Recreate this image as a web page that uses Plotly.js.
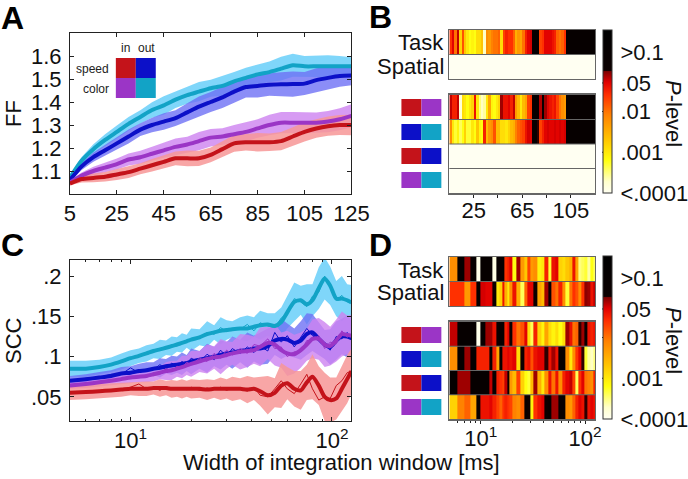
<!DOCTYPE html>
<html><head><meta charset="utf-8">
<script src="https://cdn.plot.ly/plotly-3.0.1.min.js"></script>
<style>html,body{margin:0;padding:0;background:#fff}#g{width:688px;height:479px}</style>
</head><body><div id="g"></div>
<script>
// ---------- Panel A: Fano factor vs. integration window ----------
const windowA=[5,10,15,20,25,30,35,40,45,50,55,60,65,70,75,80,85,90,95,100,105,110,115,120,125];
const ffTeal=[1.07,1.145,1.195,1.235,1.27,1.305,1.335,1.365,1.385,1.41,1.43,1.445,1.46,1.47,1.49,1.505,1.52,1.53,1.545,1.56,1.555,1.555,1.555,1.555,1.555];
const ffBlue=[1.06,1.12,1.16,1.19,1.22,1.25,1.28,1.30,1.315,1.33,1.355,1.38,1.40,1.42,1.445,1.465,1.47,1.475,1.477,1.478,1.48,1.495,1.505,1.513,1.515];
const ffPurple=[1.05,1.08,1.10,1.115,1.13,1.15,1.16,1.175,1.19,1.205,1.215,1.23,1.245,1.25,1.26,1.27,1.285,1.30,1.31,1.31,1.31,1.31,1.315,1.325,1.34];
const ffRed=[1.045,1.065,1.07,1.075,1.085,1.095,1.11,1.125,1.14,1.155,1.155,1.155,1.17,1.195,1.22,1.225,1.225,1.225,1.23,1.25,1.27,1.285,1.295,1.30,1.30];
const ffTealErr=[.008,.016,.021,.025,.028,.03,.029,.034,.04,.036,.038,.042,.037,.043,.04,.044,.042,.046,.052,.05,.045,.046,.048,.045,.04];
const ffBlueErr=[.007,.016,.02,.024,.026,.03,.028,.032,.036,.034,.04,.044,.043,.046,.048,.045,.05,.048,.052,.055,.05,.052,.05,.047,.042];
const ffPurpleErr=[.006,.014,.018,.02,.024,.026,.028,.03,.032,.036,.034,.04,.038,.036,.04,.042,.04,.045,.046,.047,.045,.044,.046,.048,.05];
const ffRedErr=[.007,.015,.019,.021,.024,.025,.024,.027,.03,.03,.034,.033,.032,.034,.036,.036,.04,.038,.04,.04,.042,.04,.042,.044,.045];

// ---------- Panel C: spike count correlation ----------
const windowC=[5,6,7,8,9,10,11,12,13,14,15,16,17,18,19,20,22,24,26,28,30,32,35,38,41,44,48,52,56,60,65,70,75,80,86,92,98,105,112,119,125];
const sccTeal=[.085,.085,.087,.09,.094,.098,.101,.104,.107,.109,.111,.113,.115,.117,.119,.121,.124,.128,.13,.132,.133,.134,.135,.135,.137,.139,.14,.138,.143,.155,.168,.17,.165,.17,.185,.197,.188,.172,.172,.17,.167];
const sccBlue=[.07,.072,.074,.076,.079,.08,.082,.083,.085,.086,.088,.089,.09,.091,.092,.094,.096,.098,.10,.102,.104,.105,.107,.108,.11,.11,.113,.12,.122,.121,.117,.12,.128,.13,.122,.115,.112,.12,.125,.125,.123];
const sccPurple=[.064,.066,.068,.07,.072,.074,.075,.076,.078,.08,.082,.083,.085,.087,.089,.091,.094,.097,.099,.10,.102,.104,.106,.107,.108,.112,.117,.115,.108,.104,.103,.108,.115,.122,.122,.115,.113,.12,.128,.127,.126];
const sccRed=[.055,.056,.057,.058,.059,.06,.06,.06,.061,.061,.061,.06,.06,.06,.06,.06,.06,.059,.06,.06,.06,.06,.06,.059,.06,.057,.052,.055,.064,.067,.06,.058,.068,.075,.064,.05,.046,.048,.06,.072,.082];
const rawTeal=[.085,.084,.087,.091,.093,.098,.101,.105,.106,.11,.11,.115,.113,.118,.118,.122,.123,.13,.128,.136,.131,.135,.134,.14,.132,.142,.138,.136,.148,.154,.172,.168,.162,.175,.18,.2,.186,.17,.176,.168,.168];
const rawBlue=[.07,.073,.074,.078,.078,.086,.08,.084,.084,.09,.084,.092,.088,.094,.09,.098,.093,.103,.096,.108,.1,.11,.104,.112,.105,.113,.107,.13,.118,.126,.112,.124,.135,.126,.12,.114,.108,.125,.122,.13,.12];
const rawPurple=[.064,.066,.069,.07,.073,.074,.076,.075,.08,.08,.085,.082,.088,.086,.093,.09,.098,.094,.104,.098,.108,.102,.11,.104,.115,.113,.122,.11,.112,.1,.106,.106,.12,.12,.126,.11,.118,.116,.132,.124,.128];
const rawRed=[.055,.056,.056,.059,.058,.062,.066,.06,.062,.058,.063,.06,.061,.06,.059,.062,.058,.061,.059,.062,.058,.061,.06,.057,.062,.052,.05,.06,.07,.06,.054,.066,.078,.06,.046,.05,.048,.064,.07,.08,.082];
const sccTealErr=[.01,.01,.009,.009,.01,.01,.009,.01,.009,.012,.009,.012,.009,.012,.008,.014,.01,.016,.009,.017,.012,.01,.014,.016,.012,.018,.014,.016,.018,.02,.024,.018,.025,.02,.026,.026,.024,.022,.028,.02,.022];
const sccBlueErr=[.006,.006,.007,.007,.008,.008,.009,.01,.008,.012,.009,.012,.01,.014,.01,.016,.011,.018,.012,.018,.014,.02,.014,.022,.016,.02,.022,.018,.025,.02,.018,.024,.026,.023,.02,.018,.022,.024,.022,.026,.022];
const sccPurpleErr=[.004,.005,.005,.006,.006,.007,.007,.008,.009,.008,.011,.012,.01,.014,.012,.016,.013,.018,.014,.022,.017,.014,.022,.02,.017,.024,.02,.026,.022,.028,.024,.022,.02,.024,.026,.028,.024,.026,.028,.024,.026];
const sccRedErr=[.009,.009,.009,.009,.009,.008,.009,.009,.008,.011,.009,.011,.01,.012,.01,.012,.011,.013,.011,.014,.012,.015,.013,.017,.014,.018,.024,.018,.028,.02,.022,.024,.022,.028,.024,.03,.028,.026,.028,.03,.028];

// ---------- Panel B: log10(P) per 2-ms bin ----------
const edgesB=[5,7,9,11,13,15,17,19,21,23,25,27,29,31,33,35,37,39,41,43,45,47,49,51,53,55,57,59,61,63,65,67,69,71,73,75,77,79,81,83,85,87,89,91,93,95,97,99,101,103,105,107,109,111,113,115,117,119,121,123,125];
const bTask=[-1.6,-1.3,-2.0,-1.2,-2.8,-1.8,-2.7,-3.0,-3.2,-3.1,-3.2,-2.9,-2.9,-2.7,-3.7,-2.2,-2.3,-2.1,-2.0,-2.0,-1.9,-2.9,-1.7,-1.5,-1.6,-1.6,-1.9,-2.5,-2.3,-2.4,-2.0,-1.5,-1.3,-1.25,-.5,-.5,-.5,-1.7,-1.6,-1.3,-1.3,-1.3,-1.4,-1.5,-1.9,-2.0,-1.9,-1.6,-.5,-.5,-.5,-.5,-.5,-.5,-.5,-.5,-.5,-.5,-.5,-.5];
const bSpatial=[-4,-4,-4,-4,-4,-4,-4,-4,-4,-4,-4,-4,-4,-4,-4,-4,-4,-4,-4,-4,-4,-4,-4,-4,-4,-4,-4,-4,-4,-4,-4,-4,-4,-4,-4,-4,-4,-4,-4,-4,-4,-4,-4,-4,-4,-4,-4,-4,-4,-4,-4,-4,-4,-4,-4,-4,-4,-4,-4,-4];
const bInSpeedColor=[-1.2,-1.5,-1.5,-1.2,-3.8,-2.9,-3.0,-3.2,-3.0,-2.8,-1.4,-3.0,-3.5,-3.7,-3.6,-3.0,-2.4,-3.1,-3.2,-3.0,-2.8,-1.1,-1.4,-1.4,-1.3,-1.5,-1.2,-2.3,-2.6,-3.0,-2.6,-2.4,-1.7,-1.6,-.5,-.5,-.5,-1.15,-.7,-1.1,-1.3,-1.4,-1.5,-1.4,-1.7,-2.0,-2.2,-2.3,-.5,-.5,-.5,-.5,-.5,-.5,-.5,-.5,-.5,-.5,-.5,-.5];
const bOutSpeedColor=[-2.2,-3.0,-3.3,-3.1,-3.4,-3.2,-2.8,-3.3,-3.3,-3.0,-3.2,-2.7,-3.1,-3.2,-1.5,-2.6,-2.3,-2.2,-1.8,-2.6,-2.6,-2.9,-2.9,-3.0,-2.8,-2.6,-2.5,-2.1,-1.9,-1.8,-1.7,-1.4,-1.25,-1.3,-.5,-.5,-1.0,-1.7,-1.5,-1.3,-1.25,-1.3,-1.3,-1.25,-1.3,-1.25,-1.3,-1.25,-.5,-.5,-.5,-.5,-.5,-.5,-.5,-.5,-.5,-.5,-.5,-.5];
const bSpeedInOut=[-4,-4,-4,-4,-4,-4,-4,-4,-4,-4,-4,-4,-4,-4,-4,-4,-4,-4,-4,-4,-4,-4,-4,-4,-4,-4,-4,-4,-4,-4,-4,-4,-4,-4,-4,-4,-4,-4,-4,-4,-4,-4,-4,-4,-4,-4,-4,-4,-4,-4,-4,-4,-4,-4,-4,-4,-4,-4,-4,-4];
const bColorInOut=[-4,-4,-4,-4,-4,-4,-4,-4,-4,-4,-4,-4,-4,-4,-4,-4,-4,-4,-4,-4,-4,-4,-4,-4,-4,-4,-4,-4,-4,-4,-4,-4,-4,-4,-4,-4,-4,-4,-4,-4,-4,-4,-4,-4,-4,-4,-4,-4,-4,-4,-4,-4,-4,-4,-4,-4,-4,-4,-4,-4];

// ---------- Panel D: log10(P) per window ----------
const dTask=[-2.2,-.5,-1.1,-.5,-3.95,-.5,-.5,-.5,-3.9,-.5,-.5,-.5,-1.6,-1.5,-1.3,-3.2,-1.1,-2.3,-2.7,-1.7,-2.3,-2.2,-3.1,-3.0,-1.5,-3.3,-1.4,-1.3,-2.8,-2.9,-2.7,-2.5,-1.4,-2.4,-3.5,-3.4,-3.3,-3.6,-3.2,-3.4];
const dSpatial=[-1.6,-1.6,-2.3,-1.6,-.5,-1.25,-1.3,-1.3,-.8,-3.0,-2.8,-1.4,-2.5,-3.0,-2.2,-1.4,-2.5,-3.4,-1.9,-1.3,-1.3,-.9,-2.4,-2.6,-1.1,-.7,-1.8,-2.0,-1.5,-2.2,-3.3,-2.0,-1.6,-1.8,-2.2,-1.6,-1.05,-1.1,-1.4,-1.2];
const dInSpeedColor=[-1.2,-.5,-.5,-.5,-3.95,-.5,-1.1,-1.1,-1.4,-.8,-.5,-.5,-1.5,-1.3,-.9,-1.6,-2.0,-1.8,-1.3,-2.9,-3.4,-1.5,-2.8,-3.1,-2.4,-2.9,-3.1,-2.9,-3.2,-2.9,-1.1,-1.4,-2.0,-1.9,-1.0,-1.1,-.8,-1.4,-1.5,-1.4];
const dOutSpeedColor=[-2.2,-.5,-1.1,-.5,-1.5,-1.5,-1.5,-.7,-1.5,-2.4,-.5,-1.4,-1.4,-1.3,-1.4,-1.3,-2.9,-.9,-1.5,-1.4,-1.8,-1.4,-1.3,-1.3,-1.0,-1.4,-1.1,-1.4,-.5,-.5,-2.2,-3.0,-2.2,-1.6,-1.3,-1.0,-3.3,-3.6,-3.7,-3.5];
const dSpeedInOut=[-.5,-1.1,-1.1,-.5,-.5,-.5,-.5,-1.2,-.6,-1.5,-1.6,-1.7,-1.2,-.9,-2.3,-2.6,-1.7,-2.8,-3.2,-3.3,-2.6,-1.1,-2.5,-3.0,-2.2,-1.4,-2.0,-1.4,-2.2,-1.5,-1.3,-1.2,-1.7,-3.4,-1.6,-1.3,-2.0,-2.1,-2.2,-1.5];
const dColorInOut=[-2.8,-2.1,-1.9,-2.4,-.7,-1.4,-1.4,-1.3,-1.5,-1.7,-1.9,-1.6,-1.5,-1.6,-1.7,-2.1,-2.2,-1.9,-.5,-.9,-3.1,-1.6,-1.4,-1.3,-.8,-.5,-1.1,-1.1,-.5,-.5,-2.2,-2.3,-1.9,-1.5,-1.3,-1.4,-1.0,-1.4,-1.3,-1.4];

// ---------- Ticks ----------
const ffTicks=[1.1,1.2,1.3,1.4,1.5,1.6];
const ffTickText=['1.1','1.2','1.3','1.4','1.5','1.6'];
const linearWindowTicks=[5,25,45,65,85,105,125];
const sccTicks=[.05,.1,.15,.2];
const sccTickText=['.05','.1','.15','.2'];
const logTicks=[10,100];
const logTickText=['10<sup>1</sup>','10<sup>2</sup>'];
const logMinor=[6,7,8,9,20,30,40,50,60,70,80,90];
const bTicks=[25,45,65,85,105];
const bTickText=['25','','65','','105'];
const pTicks=[-.54,-1.3,-2,-3,-4];
const pTickText=['&gt;0.1','.05','.01','.001','&lt;.0001'];
const pInnerTicks=[-1.3,-2,-3];

const W=688,H=479;
const FONT='"Liberation Sans", Arial, sans-serif';
const RED='#c4131a',BLUE='#0c10c8',PURPLE='#9b35c6',TEAL='#12a3c6';
const RED_B='rgba(247,150,150,0.85)',BLUE_B='rgba(110,112,245,0.8)',PURPLE_B='rgba(205,130,240,0.8)',TEAL_B='rgba(120,212,250,0.95)';

const domX=(a,b)=>[a/W,b/W];
const domY=(t,b)=>[1-b/H,1-t/H];

function band(x,y,e,color,xa,ya){
  const hi=y.map((v,i)=>v+e[i]),lo=y.map((v,i)=>v-e[i]);
  return {x:x.concat(x.slice().reverse()),y:hi.concat(lo.reverse()),xaxis:xa,yaxis:ya,type:'scatter',mode:'lines',
    fill:'toself',fillcolor:color,line:{width:0},hoverinfo:'skip',showlegend:false};
}
function line(x,y,color,w,xa,ya){
  return {x,y,xaxis:xa,yaxis:ya,type:'scatter',mode:'lines',line:{color,width:w,shape:w>2?'spline':'linear',smoothing:.7},hoverinfo:'skip',showlegend:false};
}
function heat(x,rows,xa,ya,ca){
  return {type:'heatmap',x,y:rows.map((r,i)=>i),z:rows,xaxis:xa,yaxis:ya,coloraxis:ca,hoverinfo:'skip'};
}

const data=[
  band(windowA,ffTeal,ffTealErr,TEAL_B,'x','y'),
  band(windowA,ffBlue,ffBlueErr,BLUE_B,'x','y'),
  band(windowA,ffPurple,ffPurpleErr,PURPLE_B,'x','y'),
  band(windowA,ffRed,ffRedErr,RED_B,'x','y'),
  line(windowA,ffTeal,TEAL,4,'x','y'),
  line(windowA,ffBlue,BLUE,4,'x','y'),
  line(windowA,ffPurple,PURPLE,4,'x','y'),
  line(windowA,ffRed,RED,4,'x','y'),

  band(windowC,sccTeal,sccTealErr,TEAL_B,'x2','y2'),
  band(windowC,sccBlue,sccBlueErr,BLUE_B,'x2','y2'),
  band(windowC,sccPurple,sccPurpleErr,PURPLE_B,'x2','y2'),
  band(windowC,sccRed,sccRedErr,RED_B,'x2','y2'),
  line(windowC,rawTeal,TEAL,1,'x2','y2'),
  line(windowC,sccTeal,TEAL,4,'x2','y2'),
  line(windowC,rawBlue,BLUE,1,'x2','y2'),
  line(windowC,sccBlue,BLUE,4,'x2','y2'),
  line(windowC,rawPurple,PURPLE,1,'x2','y2'),
  line(windowC,sccPurple,PURPLE,4,'x2','y2'),
  line(windowC,rawRed,RED,1,'x2','y2'),
  line(windowC,sccRed,RED,4,'x2','y2'),

  heat(edgesB,[bTask,bSpatial],'x3','y3','coloraxis'),
  heat(edgesB,[bInSpeedColor,bOutSpeedColor,bSpeedInOut,bColorInOut],'x4','y4','coloraxis'),
  heat(windowC,[dTask,dSpatial],'x5','y5','coloraxis2'),
  heat(windowC,[dInSpeedColor,dOutSpeedColor,dSpeedInOut,dColorInOut],'x6','y6','coloraxis2')
];

const AX='#222',FR='#666';
const tick={family:FONT,size:22,color:'#111'};
const cartX={range:[5,125],tickmode:'array',tickvals:linearWindowTicks,ticks:'inside',ticklen:4,tickcolor:AX,showline:true,linecolor:AX,linewidth:1,mirror:'ticks',showgrid:false,zeroline:false,tickfont:tick,tickangle:0};
const cartY={ticks:'inside',ticklen:4,tickcolor:AX,showline:true,linecolor:AX,linewidth:1,mirror:'ticks',showgrid:false,zeroline:false,tickfont:tick,tickmode:'array'};
const hmX={showline:true,linecolor:FR,linewidth:1,mirror:true,showgrid:false,zeroline:false,ticks:'',showticklabels:false};
const hmY={showline:true,linecolor:FR,linewidth:1,mirror:true,showgrid:false,zeroline:false,ticks:'',showticklabels:false,fixedrange:true};
const logR=[Math.log10(5),Math.log10(125)];

const scale=[[0,'#fffff2'],[.07,'#ffffcc'],[.2,'#ffff10'],[.33,'#ffc400'],[.48,'#ff8000'],[.6,'#ff3000'],[.68,'#e00000'],[.745,'#800000'],[.752,'#0c0000'],[1,'#000000']];
function cbar(bottom){
  return {cmin:-4,cmax:0,colorscale:scale,showscale:true,colorbar:{
    x:603/W,xanchor:'left',xpad:0,y:1-bottom/H,yanchor:'bottom',ypad:0,len:163,lenmode:'pixels',thickness:9,thicknessmode:'pixels',
    outlinecolor:'#333',outlinewidth:1,borderwidth:0,tickmode:'array',tickvals:pTicks,ticktext:pTickText,ticks:'outside',ticklen:4,tickcolor:'rgba(0,0,0,0)',tickfont:tick}};
}

function txt(text,x,y,o){
  return Object.assign({text,x:x/W,y:1-y/H,xref:'paper',yref:'paper',showarrow:false,xanchor:'center',yanchor:'middle',font:{family:FONT,size:22,color:'#111'}},o||{});
}
const bold={family:FONT,size:32,color:'#000'};
const narrow={family:FONT,size:12,color:'#222'};
const annotations=[
  txt('<b>A</b>',13,18,{font:bold}),txt('<b>B</b>',381,17,{font:bold}),txt('<b>C</b>',13,245,{font:bold}),txt('<b>D</b>',381,245,{font:bold}),
  txt('FF',13,113,{textangle:-90}),txt('SCC',13,340,{textangle:-90}),
  txt('Width of integration window [ms]',342,462),
  txt('in',126,48,{font:narrow}),txt('out',147,48,{font:narrow}),
  txt('speed',111,69,{font:narrow,xanchor:'right'}),txt('color',111,89,{font:narrow,xanchor:'right'}),
  txt('Task',447,43,{xanchor:'right'}),txt('Spatial',447,66,{xanchor:'right'}),
  txt('Task',447,270,{xanchor:'right'}),txt('Spatial',447,292,{xanchor:'right'}),
  txt('<i>P</i>-level',675,113,{textangle:90}),txt('<i>P</i>-level',675,340,{textangle:90})
];

function rect(x0,x1,y0,y1,c){return {type:'rect',xref:'paper',yref:'paper',x0:x0/W,x1:x1/W,y0:1-y1/H,y1:1-y0/H,fillcolor:c,line:{width:0},layer:'above'};}
function sep(xa,ya,y){return {type:'line',xref:xa+' domain',yref:ya,x0:0,x1:1,y0:y,y1:y,line:{color:FR,width:1},layer:'above'};}
const swatchRowsB=[[99,116,RED,PURPLE],[124,140,BLUE,TEAL],[148,164,RED,BLUE],[172,188,PURPLE,TEAL]];
const swatchRowsD=[[327,343,RED,PURPLE],[351,367,BLUE,TEAL],[375,391,RED,BLUE],[399,415,PURPLE,TEAL]];
const shapes=[
  rect(116,136,58,78,RED),rect(136,156,58,78,BLUE),rect(116,136,78,98,PURPLE),rect(136,156,78,98,TEAL),
  sep('x3','y3',.5),sep('x4','y4',.5),sep('x4','y4',1.5),sep('x4','y4',2.5),
  sep('x5','y5',.5),sep('x6','y6',.5),sep('x6','y6',1.5),sep('x6','y6',2.5)
];
swatchRowsB.concat(swatchRowsD).forEach(r=>{shapes.push(rect(402,422,r[0],r[1],r[2]));shapes.push(rect(422,442,r[0],r[1],r[3]));});
// short inner tick marks on both colour bars (bar spans 163 px for log10 P from -4 to 0)
[193,419].forEach(bottom=>pInnerTicks.forEach(v=>{
  const py=1-(bottom-163+(-v/4)*163)/H;
  [[603,605],[610,612]].forEach(p=>shapes.push({type:'line',xref:'paper',yref:'paper',x0:p[0]/W,x1:p[1]/W,y0:py,y1:py,line:{color:'#111',width:1},layer:'above'}));
}));

const layout={
  width:W,height:H,margin:{l:0,r:0,t:0,b:0,pad:0},paper_bgcolor:'#fff',plot_bgcolor:'#fff',showlegend:false,
  font:{family:FONT,size:22,color:'#111'},
  xaxis:Object.assign({},cartX,{domain:domX(70,352),anchor:'y',ticklabelstandoff:0}),
  yaxis:Object.assign({},cartY,{domain:domY(33,194),anchor:'x',range:[1,1.7],tickvals:ffTicks,ticktext:ffTickText,ticklabelstandoff:3}),
  xaxis2:Object.assign({},cartX,{domain:domX(70,352),anchor:'y2',type:'log',range:logR,tickvals:logTicks,ticktext:logTickText,minor:{tickmode:'array',tickvals:logMinor,ticks:'inside',ticklen:2,tickcolor:AX},ticklabelstandoff:0}),
  yaxis2:Object.assign({},cartY,{domain:domY(260,421),anchor:'x2',range:[.02,.22],tickvals:sccTicks,ticktext:sccTickText,ticklabelstandoff:3}),
  xaxis3:Object.assign({},hmX,{domain:domX(450,596),anchor:'y3',range:[5,125]}),
  yaxis3:Object.assign({},hmY,{domain:domY(30,79),anchor:'x3',range:[1.5,-.5]}),
  xaxis4:Object.assign({},hmX,{domain:domX(450,596),anchor:'y4',range:[5,125],showticklabels:true,tickmode:'array',tickvals:bTicks,ticktext:bTickText,ticks:'outside',ticklen:3,tickcolor:AX,tickfont:tick,linewidth:2,ticklabelstandoff:-6}),
  yaxis4:Object.assign({},hmY,{domain:domY(95,193),anchor:'x4',range:[3.5,-.5]}),
  xaxis5:Object.assign({},hmX,{domain:domX(450,596),anchor:'y5',type:'log',range:logR}),
  yaxis5:Object.assign({},hmY,{domain:domY(257,306),anchor:'x5',range:[1.5,-.5]}),
  xaxis6:Object.assign({},hmX,{domain:domX(450,596),anchor:'y6',type:'log',range:logR,showticklabels:true,tickmode:'array',tickvals:logTicks,ticktext:logTickText,ticks:'outside',ticklen:3,tickcolor:AX,tickfont:tick,linewidth:2,minor:{tickmode:'array',tickvals:logMinor,ticks:'outside',ticklen:2,tickcolor:AX},ticklabelstandoff:-4}),
  yaxis6:Object.assign({},hmY,{domain:domY(322,419),anchor:'x6',range:[3.5,-.5]}),
  coloraxis:cbar(193),coloraxis2:cbar(419),
  annotations,shapes
};
Plotly.newPlot('g',data,layout,{staticPlot:true,displayModeBar:false});
</script></body></html>
